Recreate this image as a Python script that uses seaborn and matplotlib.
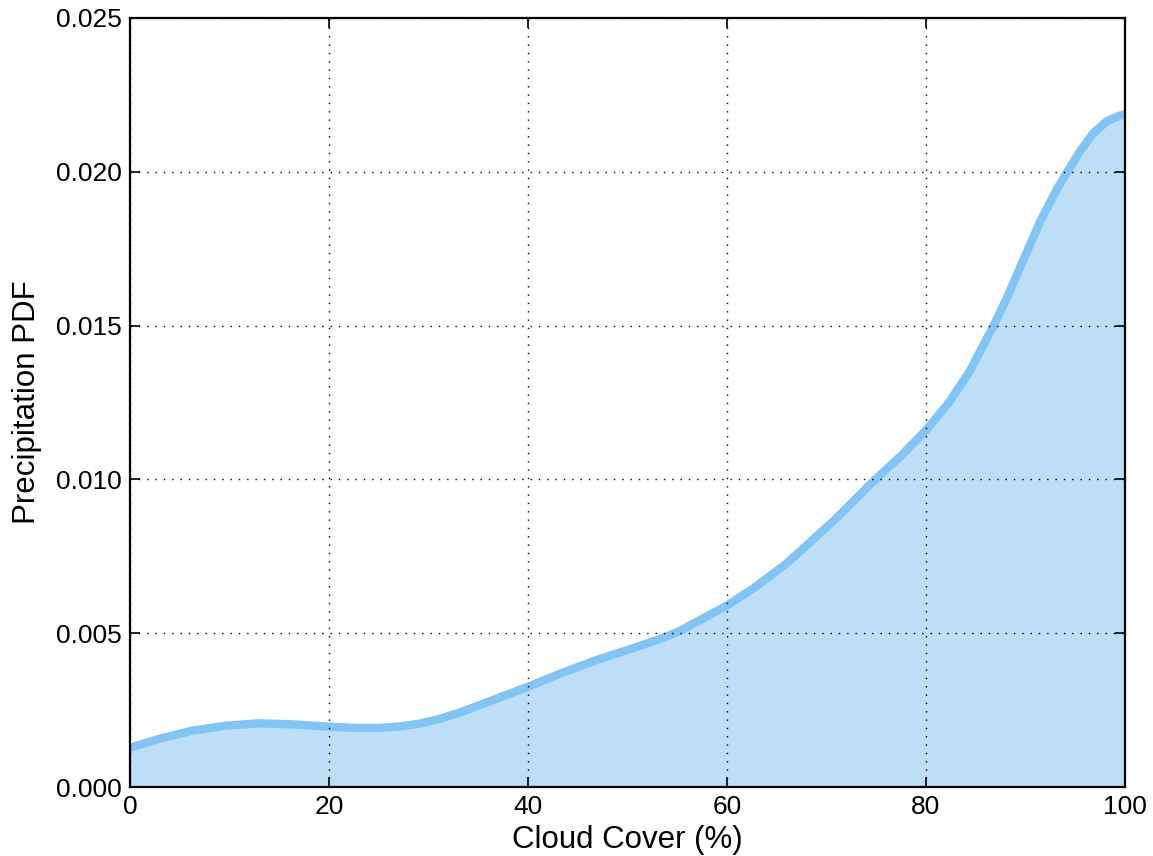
import matplotlib
matplotlib.use("Agg")
import matplotlib.pyplot as plt
import seaborn as sns
import pandas as pd

# Precipitation density as a function of cloud cover
cloud_cover = [0, 2.85, 6.2, 9.55, 12.9, 16.25, 20, 22.9, 25.1, 27.1, 29.1, 31.2,
               33.2, 35.2, 37.2, 40, 43.5, 46.9, 50.25, 53.6, 55.3, 57.5, 60,
               62.65, 66, 69, 70.7, 74.9, 77.4, 80, 82.3, 84.4, 86.8, 88.2, 89.8,
               91.5, 93.1, 94.1, 95.5, 96.8, 98.2, 99.5, 100]
precip_pdf = [0.00128, 0.00156, 0.00183, 0.00199, 0.00207, 0.00204, 0.00196,
              0.00192, 0.00192, 0.00197, 0.00206, 0.00222, 0.00243, 0.00267,
              0.00292, 0.00326, 0.00372, 0.00413, 0.00448, 0.00485, 0.00508,
              0.00547, 0.00590, 0.00646, 0.00727, 0.00815, 0.00865, 0.01000,
              0.01074, 0.01160, 0.01250, 0.01352, 0.01500, 0.01595, 0.01715,
              0.01840, 0.01940, 0.01995, 0.02068, 0.02125, 0.02165, 0.02183,
              0.02187]

x_ticks = [0, 20, 40, 60, 80, 100]
y_ticks = [0.000, 0.005, 0.010, 0.015, 0.020, 0.025]

df = pd.DataFrame({"cloud": cloud_cover, "pdf": precip_pdf})

sns.set_style("white")
plt.rcParams["font.family"] = ["Liberation Sans", "DejaVu Sans"]

fig = plt.figure(figsize=(11.53, 8.56), dpi=100)
ax = fig.add_axes([0.1128, 0.0806, 0.8629, 0.8984])

ax.fill_between(df["cloud"], df["pdf"], 0, color="#bcdef6", linewidth=0, zorder=1)
sns.lineplot(data=df, x="cloud", y="pdf", ax=ax, color="#82c4f3", linewidth=6,
             solid_capstyle="butt", solid_joinstyle="round", zorder=2)

ax.set_xlim(0, 100)
ax.set_ylim(0, 0.025)
ax.set_xticks(x_ticks)
ax.set_yticks(y_ticks)
ax.set_xticklabels([str(t) for t in x_ticks])
ax.set_yticklabels([f"{t:.3f}" for t in y_ticks])

ax.grid(True, color="black", linestyle=(0, (1, 5)), linewidth=1.0, zorder=3)
ax.set_axisbelow(False)

for side in ["top", "right", "bottom", "left"]:
    ax.spines[side].set_visible(True)
    ax.spines[side].set_color("black")
    ax.spines[side].set_linewidth(1.6)
    ax.spines[side].set_zorder(4)

ax.tick_params(direction="in", length=7, width=1.2, top=True, right=True,
               bottom=True, left=True, labelsize=19, pad=6, colors="black",
               labelcolor="black")

ax.set_xlabel("Cloud Cover (%)", fontsize=22.5, labelpad=4, color="black")
ax.set_ylabel("Precipitation PDF", fontsize=22.5, labelpad=10, color="black")

fig.savefig("out.png", dpi=100)
